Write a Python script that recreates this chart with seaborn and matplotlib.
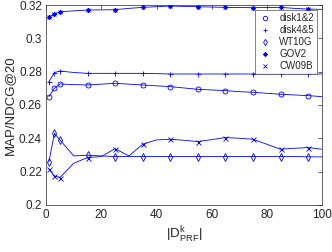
import numpy as np
import pandas as pd
import matplotlib
matplotlib.use("Agg")
import matplotlib.pyplot as plt
import seaborn as sns

# |D^k_PRF| values (line points); markers only at some of them
k = [1, 3, 5, 10, 15, 20, 25, 30, 35, 40, 45, 50, 55, 60, 65, 70, 75, 80, 85, 90, 95, 100]
mark_idx = [0, 1, 2, 4, 6, 8, 10, 12, 14, 16, 18, 20]

disk12 = [0.265, 0.270, 0.2726, 0.2722, 0.272, 0.2725, 0.273, 0.2725, 0.272, 0.2715, 0.271, 0.2702,
          0.2694, 0.269, 0.2686, 0.268, 0.2676, 0.267, 0.2664, 0.266, 0.2656, 0.265]
disk45 = [0.274, 0.2794, 0.2804, 0.2795, 0.279, 0.279, 0.279, 0.279, 0.279, 0.2788, 0.2786, 0.2786,
          0.2786, 0.2786, 0.2786, 0.2786, 0.2786, 0.2786, 0.2786, 0.2786, 0.2786, 0.2786]
wt10g = [0.2258, 0.243, 0.239, 0.2294, 0.2298, 0.2294, 0.229, 0.229, 0.229, 0.229, 0.229, 0.229,
         0.229, 0.229, 0.229, 0.229, 0.229, 0.229, 0.229, 0.229, 0.2289, 0.2288]
gov2 = [0.313, 0.3144, 0.316, 0.3165, 0.317, 0.3171, 0.3172, 0.318, 0.3186, 0.319, 0.3194, 0.3192,
        0.319, 0.3188, 0.3186, 0.3185, 0.3184, 0.3185, 0.3186, 0.318, 0.3176, 0.3174]
cw09b = [0.2214, 0.2174, 0.2164, 0.225, 0.2284, 0.229, 0.2338, 0.2294, 0.2364, 0.239, 0.2394, 0.2388,
         0.238, 0.2392, 0.2404, 0.240, 0.2394, 0.2364, 0.2334, 0.234, 0.2344, 0.2334]

series = {"disk1&2": (disk12, "o"), "disk4&5": (disk45, "+"), "WT10G": (wt10g, "d"),
          "GOV2": (gov2, (8, 2, 0)), "CW09B": (cw09b, "x")}

sns.set_style("white")
plt.rcParams["font.family"] = ["Liberation Sans", "DejaVu Sans"]
plt.rcParams["mathtext.fontset"] = "custom"
plt.rcParams["mathtext.rm"] = "Liberation Sans"

fig = plt.figure(figsize=(3.32, 2.52), dpi=100)
ax = fig.add_axes([0.139, 0.187, 0.831, 0.793])

for name, (vals, m) in series.items():
    df = pd.DataFrame({"k": k, "v": vals})
    sns.lineplot(data=df, x="k", y="v", ax=ax, color="blue", lw=0.6, marker=m,
                 markevery=mark_idx, markersize=3.6, markerfacecolor="none",
                 markeredgecolor="blue", markeredgewidth=0.6, label=name)

ax.set_xlim(0, 100)
ax.set_ylim(0.2, 0.32)
ax.set_xticks(np.arange(0, 101, 20))
ax.set_yticks(np.arange(0.2, 0.321, 0.02))
ax.set_yticklabels(["0.2", "0.22", "0.24", "0.26", "0.28", "0.3", "0.32"])
ax.tick_params(direction="in", top=True, right=True, length=3, width=0.5, labelsize=8.5,
               colors="#262626", pad=3)
for s in ax.spines.values():
    s.set_linewidth(0.5)
    s.set_color("#262626")
ax.set_xlabel(r"$|\mathrm{D}^{\mathrm{k}}_{\mathrm{PRF}}|$", fontsize=9.5, labelpad=3)
ax.set_ylabel("MAP/NDCG@20", fontsize=9.5, labelpad=2)

leg = ax.legend(loc="upper right", fontsize=7, frameon=True, fancybox=False, handlelength=1.2,
                borderaxespad=0.5, labelspacing=0.2, borderpad=0.35, handletextpad=0.9)
leg.get_frame().set_edgecolor("#262626")
leg.get_frame().set_linewidth(0.5)
for h in leg.legend_handles:
    h.set_linestyle("none")
    h.set_markersize(3.2)

fig.savefig("out.png", dpi=100)
